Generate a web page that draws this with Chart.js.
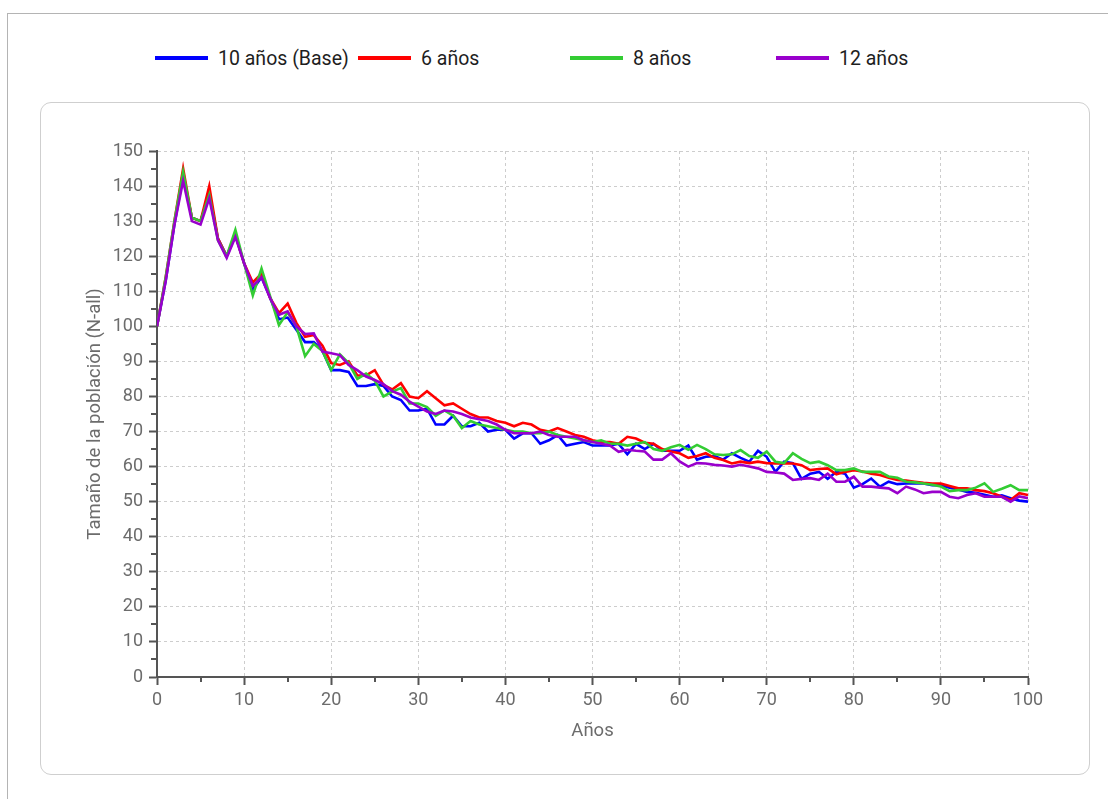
<!DOCTYPE html>
<html lang="es">
<head>
<meta charset="utf-8">
<title>Tamaño de la población</title>
<script src="https://cdn.jsdelivr.net/npm/chart.js@4.4.1/dist/chart.umd.min.js"></script>
<style>
  html, body { margin: 0; padding: 0; background: #fff; overflow: hidden; }
  body { width: 1108px; height: 799px; position: relative; font-family: Roboto, "Liberation Sans", sans-serif; }
  #frame { position: absolute; left: 7px; top: 13px; width: 1140px; height: 820px; border: 1px solid #b4b4b4; box-sizing: border-box; }
  #panel { position: absolute; left: 40px; top: 102px; width: 1050px; height: 673px; border: 1.5px solid #cfcfcf; border-radius: 11px; box-sizing: border-box; }
  #chart { position: absolute; left: 40px; top: 102px; }
  .lg { position: absolute; top: 46px; height: 24px; display: flex; align-items: center; font-size: 19.5px; color: #1e1e1e; white-space: nowrap; }
  .lg i { display: inline-block; width: 53px; height: 4px; margin-right: 10px; }
</style>
</head>
<body>
<div id="frame"></div>
<div id="panel"></div>
<div id="legend"></div>
<canvas id="chart" width="1050" height="673"></canvas>
<script>
// Años simulados (0..100)
const years = Array.from({ length: 101 }, (_, i) => i);

const seriesNames = ['10 años (Base)', '6 años', '8 años', '12 años'];
const seriesColors = ['#0000ff', '#ff0000', '#33cc33', '#9900cc'];
const legendLeft = [155, 358, 570, 776];

// Tamaño de la población (N-all) por escenario
const base10 = [
  100, 113, 129, 143, 131, 130, 138, 125, 120, 126,
  118, 110.5, 114, 108, 102, 102.5, 99, 95.5, 95.5, 93,
  87.5, 87.5, 87, 83, 83, 83.5, 83, 80, 79, 76,
  76, 76.5, 72, 72, 74.5, 71.5, 71.5, 72.5, 70, 70.5,
  70.5, 68, 69.5, 69.5, 66.5, 67.5, 69, 66, 66.5, 67,
  66, 66, 66, 66.5, 63.5, 66.5, 65, 66.5, 64.5, 64.5,
  64.5, 66, 62, 62.8, 63, 62, 63.8, 62.5, 61.4, 64.5,
  62.8, 58.5, 61.4, 61, 56.5, 58, 58.5, 56.5, 58.5, 58,
  54, 55, 56.6, 54.3, 55.7, 55, 55.2, 55.2, 55.2, 54.7,
  54.7, 54, 53.5, 52.8, 52.5, 52, 51.4, 51.8, 51, 50.3,
  50
];
const years6 = [
  100, 114, 130, 145, 131, 130, 140, 125, 120, 126,
  118, 112.5, 115, 108, 103.8, 106.5, 101, 97, 97.5, 94.5,
  89.5, 89, 90, 86, 86, 87.5, 83.3, 82, 83.8, 80,
  79.5, 81.5, 79.5, 77.5, 78, 76.5, 75, 74, 74, 73,
  72.5, 71.5, 72.5, 72, 70.5, 70, 71, 70, 69, 68.5,
  67.5, 67, 67, 66.5, 68.5, 68, 66.8, 66.5, 65, 64.3,
  63.8, 62.5, 63, 63.8, 62.5, 61.9, 60.9, 61.4, 61, 61.4,
  61, 60.9, 60.9, 60.9, 60.4, 59, 59.3, 59.5, 57.8, 58.5,
  59, 58.6, 58, 57.6, 56.8, 56.2, 56, 55.7, 55.4, 55.2,
  55.2, 54.5, 53.8, 53.8, 53.3, 53, 52.4, 51.4, 50.5, 52.4,
  51.9
];
const years8 = [
  100, 114, 130, 144, 131, 130, 137.5, 124.5, 120, 127.5,
  118, 108.8, 116.5, 108.5, 100.4, 104, 100, 91.5, 95, 93,
  87.5, 92, 89.5, 85, 86.5, 84.5, 80, 81.4, 82.4, 78,
  78, 77, 74.5, 76, 74.5, 71, 73, 72, 71.5, 71,
  70.5, 70, 70, 69.5, 69.5, 70, 69, 68.5, 68, 67.5,
  67, 67.5, 66.5, 66.5, 66, 66.5, 67, 65, 64.5, 65.5,
  66.2, 64.8, 66.2, 65, 63.5, 63.3, 63.5, 64.7, 63, 62.5,
  64.3, 61.4, 61, 63.8, 62.2, 61, 61.4, 60.4, 59, 59,
  59.5, 58.5, 58.5, 58.5, 57.2, 56.8, 55.7, 55.5, 55.2, 54.8,
  54.3, 53, 53.3, 53.3, 54, 55.2, 52.8, 53.7, 54.7, 53.3,
  53.3
];
const years12 = [
  100, 113, 129, 141.5, 130, 129, 136.5, 124.5, 119.5, 125.5,
  118, 111.5, 114, 108, 103.3, 104.3, 100, 97.8, 98, 92.8,
  92.3, 91.8, 89, 87.5, 85.7, 84.7, 83.5, 81.5, 80.5, 78.5,
  77.1, 75.7, 75, 76, 75.7, 75, 74, 73.5, 73, 72,
  70.5, 69.5, 69.5, 69.5, 70, 69, 68.5, 68.5, 68.5, 67.5,
  67, 66.5, 66, 64.2, 64.8, 64.5, 64.3, 62, 62, 63.8,
  61.5, 60, 61, 60.9, 60.5, 60.3, 60, 60.5, 60, 59.5,
  58.5, 58.3, 58, 56.2, 56.5, 56.7, 56.2, 58, 55.7, 55.7,
  57.1, 54.3, 54.3, 54, 53.8, 52.4, 54.3, 53.5, 52.4, 52.8,
  52.8, 51.4, 51, 51.9, 52.4, 51.4, 51.4, 51.4, 50, 51.5,
  51
];
const seriesValues = [base10, years6, years8, years12];

// Leyenda
const legendEl = document.getElementById('legend');
seriesNames.forEach((name, i) => {
  const item = document.createElement('div');
  item.className = 'lg';
  item.style.left = legendLeft[i] + 'px';
  const sw = document.createElement('i');
  sw.style.background = seriesColors[i];
  item.appendChild(sw);
  item.appendChild(document.createTextNode(name));
  legendEl.appendChild(item);
});

// Marcas secundarias (cada 5) más cortas que las principales
const minorTicks = {
  id: 'minorTicks',
  afterDraw(chart) {
    const { ctx, scales: { x, y } } = chart;
    ctx.save();
    ctx.strokeStyle = '#555';
    ctx.lineWidth = 2;
    for (let v = 5; v < 100; v += 10) {
      const px = Math.round(x.getPixelForValue(v));
      ctx.beginPath();
      ctx.moveTo(px, x.top);
      ctx.lineTo(px, x.top + 5);
      ctx.stroke();
    }
    for (let v = 5; v < 150; v += 10) {
      const py = Math.round(y.getPixelForValue(v));
      ctx.beginPath();
      ctx.moveTo(y.right, py);
      ctx.lineTo(y.right - 6, py);
      ctx.stroke();
    }
    ctx.restore();
  }
};

const isMajor = (c) => c.tick && c.tick.value % 10 === 0;
const gridColor = (c) => isMajor(c) ? '#cdcdcd' : 'rgba(0,0,0,0)';
const tickMarkColor = (c) => isMajor(c) ? '#555' : 'rgba(0,0,0,0)';
const tickFont = { family: 'Roboto', size: 18 };
const titleFont = { family: 'Roboto', size: 18.5 };

new Chart(document.getElementById('chart'), {
  type: 'line',
  data: {
    datasets: seriesNames.map((name, i) => ({
      label: name,
      data: years.map((yr, k) => ({ x: yr, y: seriesValues[i][k] })),
      borderColor: seriesColors[i],
      backgroundColor: seriesColors[i],
      borderWidth: 2.6,
      pointRadius: 0,
      tension: 0,
      fill: false,
      order: 3 - i
    }))
  },
  options: {
    responsive: false,
    animation: false,
    events: [],
    layout: { padding: { top: 49, right: 62, bottom: 0, left: 0 } },
    plugins: { legend: { display: false }, tooltip: { enabled: false } },
    scales: {
      x: {
        type: 'linear',
        min: 0,
        max: 100,
        afterFit: (s) => { s.height = 98; },
        ticks: {
          stepSize: 5,
          autoSkip: false,
          maxRotation: 0,
          padding: 5,
          color: '#6c6c6c',
          font: tickFont,
          callback: (v) => (v % 10 === 0 ? String(v) : '')
        },
        grid: { color: gridColor, tickColor: tickMarkColor, tickLength: 8, lineWidth: 1, tickWidth: 2 },
        border: { display: true, color: '#555', width: 2, dash: [3, 3] },
        title: { display: true, text: 'Años', color: '#6c6c6c', font: titleFont, padding: { top: 0, bottom: 33 } }
      },
      y: {
        min: 0,
        max: 150,
        afterFit: (s) => { s.width = 117; },
        ticks: {
          stepSize: 5,
          autoSkip: false,
          padding: 6,
          color: '#6c6c6c',
          font: tickFont,
          callback: (v) => (v % 10 === 0 ? String(v) : '')
        },
        grid: { color: gridColor, tickColor: tickMarkColor, tickLength: 8, lineWidth: 1, tickWidth: 2 },
        border: { display: true, color: '#555', width: 2, dash: [3, 3] },
        title: { display: true, text: 'Tamaño de la población (N-all)', color: '#6c6c6c', font: titleFont, padding: { top: 44, bottom: 0 } }
      }
    }
  },
  plugins: [minorTicks]
});
</script>
</body>
</html>
